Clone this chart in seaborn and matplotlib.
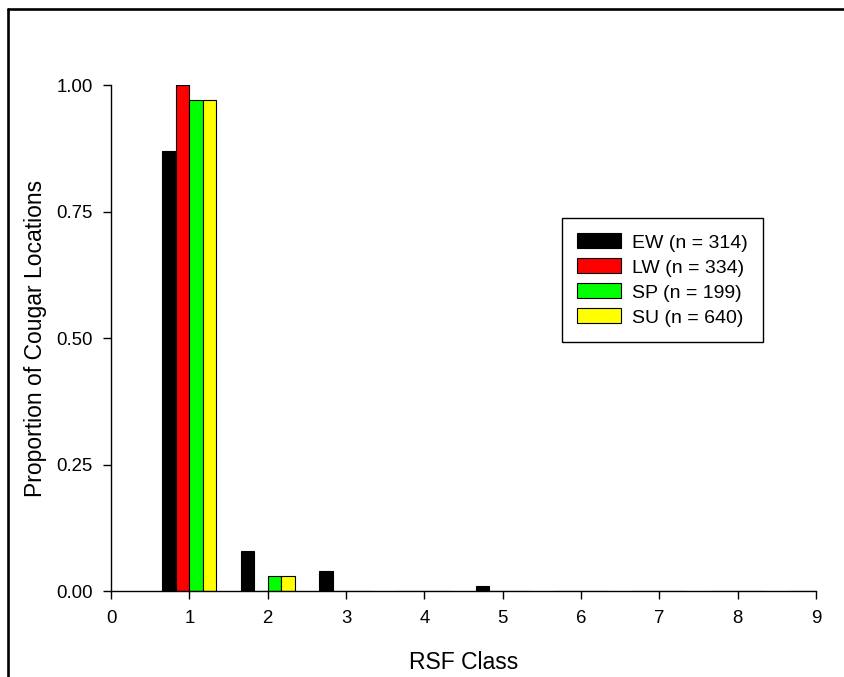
import matplotlib
matplotlib.use("Agg")
import matplotlib.pyplot as plt
from matplotlib.lines import Line2D
import pandas as pd
import seaborn as sns

# Proportion of cougar locations per RSF class, by season
rsf_class = [1, 2, 3, 4, 5, 6, 7, 8, 9]
ew = [0.87, 0.08, 0.04, 0.00, 0.01, 0.00, 0.00, 0.00, 0.00]
lw = [1.00, 0.00, 0.00, 0.00, 0.00, 0.00, 0.00, 0.00, 0.00]
sp = [0.97, 0.03, 0.00, 0.00, 0.00, 0.00, 0.00, 0.00, 0.00]
su = [0.97, 0.03, 0.00, 0.00, 0.00, 0.00, 0.00, 0.00, 0.00]
seasons = ["EW (n = 314)", "LW (n = 334)", "SP (n = 199)", "SU (n = 640)"]
colors = ["#000000", "#FF0000", "#00FF00", "#FFFF00"]
x_ticks = list(range(0, 10))
y_ticks = [0.0, 0.25, 0.50, 0.75, 1.00]

df = pd.DataFrame({
    "RSF Class": rsf_class * 4,
    "Proportion": ew + lw + sp + su,
    "Season": [s for s in seasons for _ in rsf_class],
})

sns.set_style("ticks")
plt.rcParams["font.family"] = ["Liberation Sans", "DejaVu Sans"]
for key in ("text.color", "axes.labelcolor", "xtick.color", "ytick.color",
            "axes.edgecolor"):
    plt.rcParams[key] = "black"

fig = plt.figure(figsize=(8.45, 6.77), dpi=100)
ax = fig.add_axes([0.1314, 0.127, 0.8343, 0.7474])

sns.barplot(
    data=df, x="RSF Class", y="Proportion", hue="Season",
    hue_order=seasons, palette=colors, native_scale=True,
    width=0.69, gap=0, edgecolor="black", linewidth=0.8,
    saturation=1, errorbar=None, ax=ax,
)

ax.set_xlim(0, 9)
ax.set_ylim(0, 1.0)
ax.set_xticks(x_ticks)
ax.set_xticklabels([str(t) for t in x_ticks])
ax.set_yticks(y_ticks)
ax.set_yticklabels([f"{t:.2f}" for t in y_ticks])
ax.tick_params(axis="both", labelsize=13.4, colors="black", width=1.0,
               length=5.5, direction="out")
ax.tick_params(axis="x", pad=8.3)
ax.tick_params(axis="y", pad=7.5)
for side in ("top", "right"):
    ax.spines[side].set_visible(False)
for side in ("left", "bottom"):
    ax.spines[side].set_color("black")
    ax.spines[side].set_linewidth(1.0)

ax.set_xlabel("RSF Class", fontsize=16.5, labelpad=17)
ax.set_ylabel("Proportion of Cougar Locations", fontsize=16.5, labelpad=7)

leg = ax.legend(
    loc="upper left", bbox_to_anchor=(0.6397, 0.737), fontsize=14,
    frameon=True, fancybox=False, edgecolor="black", framealpha=1,
    handlelength=2.27, handleheight=0.81, handletextpad=0.55,
    labelspacing=0.35, borderpad=0.78, borderaxespad=0,
)
leg.get_frame().set_linewidth(1.0)
for h in leg.legend_handles:
    h.set_edgecolor("black")
    h.set_linewidth(0.8)

# Outer frame lines along the top and left edges
fig.add_artist(Line2D([8 / 845, 1.0], [1 - 9 / 677, 1 - 9 / 677],
                      transform=fig.transFigure, color="black", lw=1.9))
fig.add_artist(Line2D([8 / 845, 8 / 845], [0.0, 1 - 9 / 677],
                      transform=fig.transFigure, color="black", lw=1.9))

fig.savefig("out.png", dpi=100, facecolor="white")
